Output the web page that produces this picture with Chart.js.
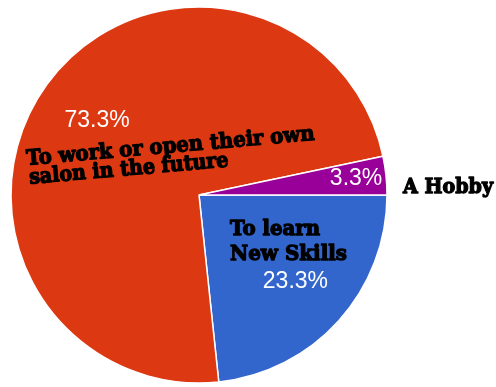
<!DOCTYPE html>
<html>
<head>
<meta charset="utf-8">
<script src="https://cdn.jsdelivr.net/npm/chart.js@4.4.0/dist/chart.umd.min.js"></script>
<style>
  html, body { margin: 0; padding: 0; background: #fff; }
  #wrap { width: 496px; height: 387px; }
</style>
</head>
<body>
<div id="wrap"><canvas id="reasonsChart"></canvas></div>
<script>
// reasons for joining the course, share of students (%)
const categories = ['To learn New Skills', 'To work or open their own salon in the future', 'A Hobby'];
const shares = [23.3, 73.3, 3.3];
const sliceColors = ['#3366cc', '#dc3912', '#990099'];

// black callout text written over the pie
const noteLines = {
    skills: ['To learn', 'New Skills'],
    salon: ['To work or open their own', 'salon in the future'],
    hobby: ['A Hobby']
};

// where each percentage sits along its slice radius
const labelRadius = [0.69, 0.67, 0.84];

const pieLabels = {
    id: 'pieLabels',
    afterDatasetsDraw(chart) {
        const ctx = chart.ctx;
        const arcs = chart.getDatasetMeta(0).data;
        const c = arcs[0].getProps(['x', 'y', 'outerRadius']);
        const cx = c.x, cy = c.y, r = c.outerRadius;

        ctx.save();
        // percentages, white, at the middle angle of each slice
        ctx.font = '23px "Liberation Sans", Arial, sans-serif';
        ctx.fillStyle = '#ffffff';
        ctx.textAlign = 'center';
        ctx.textBaseline = 'middle';
        arcs.forEach((arc, i) => {
            const p = arc.getProps(['startAngle', 'endAngle']);
            const mid = (p.startAngle + p.endAngle) / 2;
            const d = r * labelRadius[i];
            ctx.fillText(shares[i].toFixed(1) + '%', cx + Math.cos(mid) * d, cy + Math.sin(mid) * d);
        });

        // heavy black notes, squeezed to width
        ctx.font = 'bold 21px "DejaVu Serif", serif';
        ctx.fillStyle = '#000';
        ctx.strokeStyle = '#000';
        ctx.lineWidth = 1.3;
        ctx.lineJoin = 'round';
        ctx.textAlign = 'left';
        ctx.textBaseline = 'alphabetic';
        const heavy = (text, x, y, w) => {
            ctx.fillText(text, x, y, w);
            ctx.strokeText(text, x, y, w);
        };

        ctx.save();
        ctx.translate(cx - 172, cy - 30);
        ctx.rotate(-5 * Math.PI / 180);
        heavy(noteLines.salon[0], 0, 0, 289);
        heavy(noteLines.salon[1], 1, 19, 200);
        ctx.restore();

        heavy(noteLines.skills[0], cx + 31, cy + 40, 90);
        heavy(noteLines.skills[1], cx + 31, cy + 65, 117);
        heavy(noteLines.hobby[0], cx + r + 16, cy - 2, 90);
        ctx.restore();
    }
};

const ctx = document.getElementById('reasonsChart').getContext('2d');
const reasonsChart = new Chart(ctx, {
    type: 'pie',
    data: {
        labels: categories,
        datasets: [{
            data: shares,
            backgroundColor: sliceColors,
            borderColor: '#ffffff',
            borderWidth: 1.5,
            hoverOffset: 0,
            offset: 0
        }]
    },
    options: {
        responsive: true,
        maintainAspectRatio: false,
        animation: false,
        rotation: 90,
        radius: 188,
        layout: {
            padding: { left: 11, right: 109, top: 7, bottom: 4 }
        },
        plugins: {
            legend: { display: false },
            tooltip: { enabled: false }
        }
    },
    plugins: [pieLabels]
});
</script>
</body>
</html>
